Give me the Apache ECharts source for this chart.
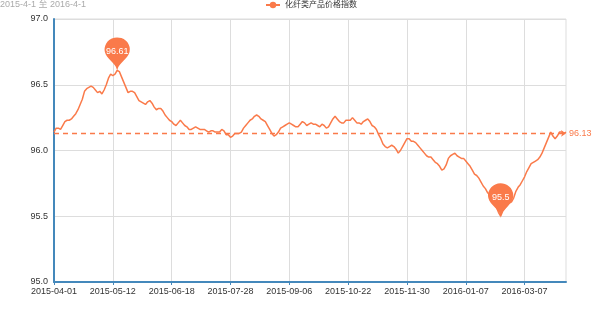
<!DOCTYPE html>
<html>
<head>
<meta charset="utf-8">
<script src="https://cdn.jsdelivr.net/npm/echarts@6/dist/echarts.min.js"></script>
<style>html,body{margin:0;padding:0;background:#fff;}#chart{width:600px;height:315px;}</style>
</head>
<body>
<div id="chart"></div>
<script>
var titleText = '2015-4-1 至 2016-4-1';
var seriesName = '化纤类产品价格指数';
var dates = [
'2015-04-01','2015-04-02','2015-04-03','2015-04-07','2015-04-08','2015-04-09','2015-04-10','2015-04-13','2015-04-14','2015-04-15',
'2015-04-16','2015-04-17','2015-04-20','2015-04-21','2015-04-22','2015-04-23','2015-04-24','2015-04-27','2015-04-28','2015-04-29',
'2015-04-30','2015-05-04','2015-05-05','2015-05-06','2015-05-07','2015-05-08','2015-05-11','2015-05-12','2015-05-13','2015-05-14',
'2015-05-15','2015-05-18','2015-05-19','2015-05-20','2015-05-21','2015-05-22','2015-05-25','2015-05-26','2015-05-27','2015-05-28',
'2015-05-29','2015-06-01','2015-06-02','2015-06-03','2015-06-04','2015-06-05','2015-06-08','2015-06-09','2015-06-10','2015-06-11',
'2015-06-12','2015-06-15','2015-06-16','2015-06-17','2015-06-18','2015-06-19','2015-06-23','2015-06-24','2015-06-25','2015-06-26',
'2015-06-29','2015-06-30','2015-07-01','2015-07-02','2015-07-03','2015-07-06','2015-07-07','2015-07-08','2015-07-09','2015-07-10',
'2015-07-13','2015-07-14','2015-07-15','2015-07-16','2015-07-17','2015-07-20','2015-07-21','2015-07-22','2015-07-23','2015-07-24',
'2015-07-27','2015-07-28','2015-07-29','2015-07-30','2015-07-31','2015-08-03','2015-08-04','2015-08-05','2015-08-06','2015-08-07',
'2015-08-10','2015-08-11','2015-08-12','2015-08-13','2015-08-14','2015-08-17','2015-08-18','2015-08-19','2015-08-20','2015-08-21',
'2015-08-24','2015-08-25','2015-08-26','2015-08-27','2015-08-28','2015-08-31','2015-09-01','2015-09-02','2015-09-06','2015-09-07',
'2015-09-08','2015-09-09','2015-09-10','2015-09-11','2015-09-14','2015-09-15','2015-09-16','2015-09-17','2015-09-18','2015-09-21',
'2015-09-22','2015-09-23','2015-09-24','2015-09-25','2015-09-28','2015-09-29','2015-09-30','2015-10-12','2015-10-13','2015-10-14',
'2015-10-15','2015-10-16','2015-10-19','2015-10-20','2015-10-21','2015-10-22','2015-10-23','2015-10-26','2015-10-27','2015-10-28',
'2015-10-29','2015-10-30','2015-11-02','2015-11-03','2015-11-04','2015-11-05','2015-11-06','2015-11-09','2015-11-10','2015-11-11',
'2015-11-12','2015-11-13','2015-11-16','2015-11-17','2015-11-18','2015-11-19','2015-11-20','2015-11-23','2015-11-24','2015-11-25',
'2015-11-26','2015-11-27','2015-11-30','2015-12-01','2015-12-02','2015-12-03','2015-12-04','2015-12-07','2015-12-08','2015-12-09',
'2015-12-10','2015-12-11','2015-12-14','2015-12-15','2015-12-16','2015-12-17','2015-12-18','2015-12-21','2015-12-22','2015-12-23',
'2015-12-24','2015-12-25','2015-12-28','2015-12-29','2015-12-30','2015-12-31','2016-01-04','2016-01-05','2016-01-06','2016-01-07',
'2016-01-08','2016-01-11','2016-01-12','2016-01-13','2016-01-14','2016-01-15','2016-01-18','2016-01-19','2016-01-20','2016-01-21',
'2016-01-22','2016-01-25','2016-01-26','2016-01-27','2016-01-28','2016-01-29','2016-02-01','2016-02-02','2016-02-03','2016-02-04',
'2016-02-05','2016-02-15','2016-02-16','2016-02-17','2016-02-18','2016-02-19','2016-03-07','2016-03-08','2016-03-09','2016-03-10',
'2016-03-11','2016-03-14','2016-03-15','2016-03-16','2016-03-17','2016-03-18','2016-03-21','2016-03-22','2016-03-23','2016-03-24',
'2016-03-25','2016-03-28','2016-03-29','2016-03-30','2016-03-31','2016-04-01'
];
var values = [
96.14,96.17,96.17,96.16,96.19,96.22,96.23,96.23,96.24,96.26,
96.28,96.31,96.35,96.39,96.45,96.47,96.48,96.49,96.48,96.46,
96.44,96.45,96.43,96.46,96.50,96.55,96.58,96.57,96.58,96.61,
96.60,96.56,96.52,96.48,96.44,96.45,96.45,96.44,96.41,96.38,
96.37,96.36,96.35,96.37,96.38,96.36,96.33,96.31,96.32,96.32,
96.30,96.27,96.25,96.23,96.22,96.20,96.19,96.21,96.23,96.21,
96.19,96.18,96.16,96.16,96.17,96.18,96.17,96.16,96.16,96.16,
96.15,96.14,96.15,96.15,96.14,96.14,96.14,96.16,96.15,96.12,
96.12,96.10,96.11,96.13,96.13,96.13,96.14,96.17,96.19,96.21,
96.23,96.24,96.26,96.27,96.26,96.24,96.23,96.22,96.19,96.16,
96.13,96.11,96.12,96.14,96.17,96.18,96.19,96.20,96.21,96.20,
96.19,96.18,96.18,96.20,96.22,96.21,96.19,96.20,96.21,96.20,
96.20,96.19,96.18,96.20,96.19,96.17,96.18,96.21,96.24,96.26,
96.24,96.22,96.21,96.21,96.23,96.23,96.23,96.25,96.23,96.21,
96.21,96.20,96.22,96.23,96.24,96.22,96.19,96.18,96.16,96.12,
96.09,96.05,96.03,96.02,96.03,96.04,96.03,96.01,95.98,96.00,
96.03,96.06,96.09,96.09,96.07,96.07,96.06,96.04,96.02,96.00,
95.98,95.96,95.95,95.95,95.93,95.91,95.90,95.88,95.85,95.86,
95.89,95.94,95.96,95.97,95.98,95.96,95.95,95.94,95.94,95.92,
95.90,95.88,95.85,95.82,95.81,95.79,95.76,95.73,95.71,95.68,
95.66,95.63,95.60,95.57,95.53,95.50,95.54,95.56,95.58,95.60,
95.61,95.64,95.69,95.72,95.74,95.77,95.80,95.84,95.87,95.90,
95.91,95.92,95.93,95.95,95.98,96.02,96.06,96.10,96.14,96.11,
96.09,96.11,96.14,96.14,96.13,96.14
];
var yMin = 95.0, yMax = 97.0, yStep = 0.5;
var labelEvery = 27;

var FONT = "'Liberation Sans', 'Noto Sans CJK SC', sans-serif";
var MAIN = '#fa7a4a';
var AXIS = '#4488bb';

var chart = echarts.init(document.getElementById('chart'), null, {renderer: 'canvas'});
chart.setOption({
  animation: false,
  color: [MAIN],
  textStyle: {fontFamily: FONT},
  title: {
    text: titleText,
    left: 0, top: 0,
    padding: 0,
    textStyle: {fontSize: 9, fontWeight: 'normal', color: '#aaaaaa', fontFamily: FONT}
  },
  legend: {
    data: [seriesName],
    left: 265, top: 1,
    padding: 0,
    itemWidth: 14, itemHeight: 8,
    textStyle: {fontSize: 8, color: '#333', fontFamily: FONT}
  },
  grid: {
    left: 54, right: 34, top: 19, bottom: 33,
    show: true, borderColor: '#dddddd', borderWidth: 1
  },
  xAxis: {
    type: 'category',
    boundaryGap: false,
    data: dates,
    axisLine: {lineStyle: {color: AXIS, width: 2}},
    axisTick: {show: true, interval: labelEvery - 1, length: 3, lineStyle: {color: AXIS}},
    axisLabel: {interval: labelEvery - 1, fontSize: 9, color: '#333', margin: 5, fontFamily: FONT},
    splitLine: {show: true, interval: labelEvery - 1, lineStyle: {color: '#dddddd', width: 1}}
  },
  yAxis: {
    type: 'value',
    min: yMin, max: yMax, interval: yStep,
    axisLine: {show: true, lineStyle: {color: AXIS, width: 2}},
    axisTick: {show: false},
    axisLabel: {fontSize: 9, color: '#333', margin: 6, fontFamily: FONT,
      formatter: function (v) { return v.toFixed(1); }},
    splitLine: {show: true, lineStyle: {color: '#dddddd', width: 1}}
  },
  series: [{
    name: seriesName,
    type: 'line',
    data: values,
    symbol: 'circle',
    symbolSize: 5,
    showSymbol: false,
    lineStyle: {width: 1.5, color: MAIN},
    itemStyle: {color: MAIN},
    markPoint: {
      symbol: 'pin',
      symbolSize: [42, 40],
      symbolOffset: [0, 2],
      label: {fontSize: 9, color: '#fff', fontFamily: FONT},
      itemStyle: {color: MAIN},
      data: [
        {type: 'max', name: '最大值'},
        {type: 'min', name: '最小值'}
      ]
    },
    markLine: {
      symbol: ['none', 'arrow'],
      symbolSize: 5,
      precision: 2,
      itemStyle: {color: MAIN},
      lineStyle: {type: [5, 4], color: MAIN, width: 1.3, opacity: 1},
      label: {fontSize: 9, color: MAIN, fontFamily: FONT, distance: 3},
      emphasis: {disabled: true},
      data: [{type: 'average', name: '平均值'}]
    }
  }]
});
</script>
</body>
</html>
